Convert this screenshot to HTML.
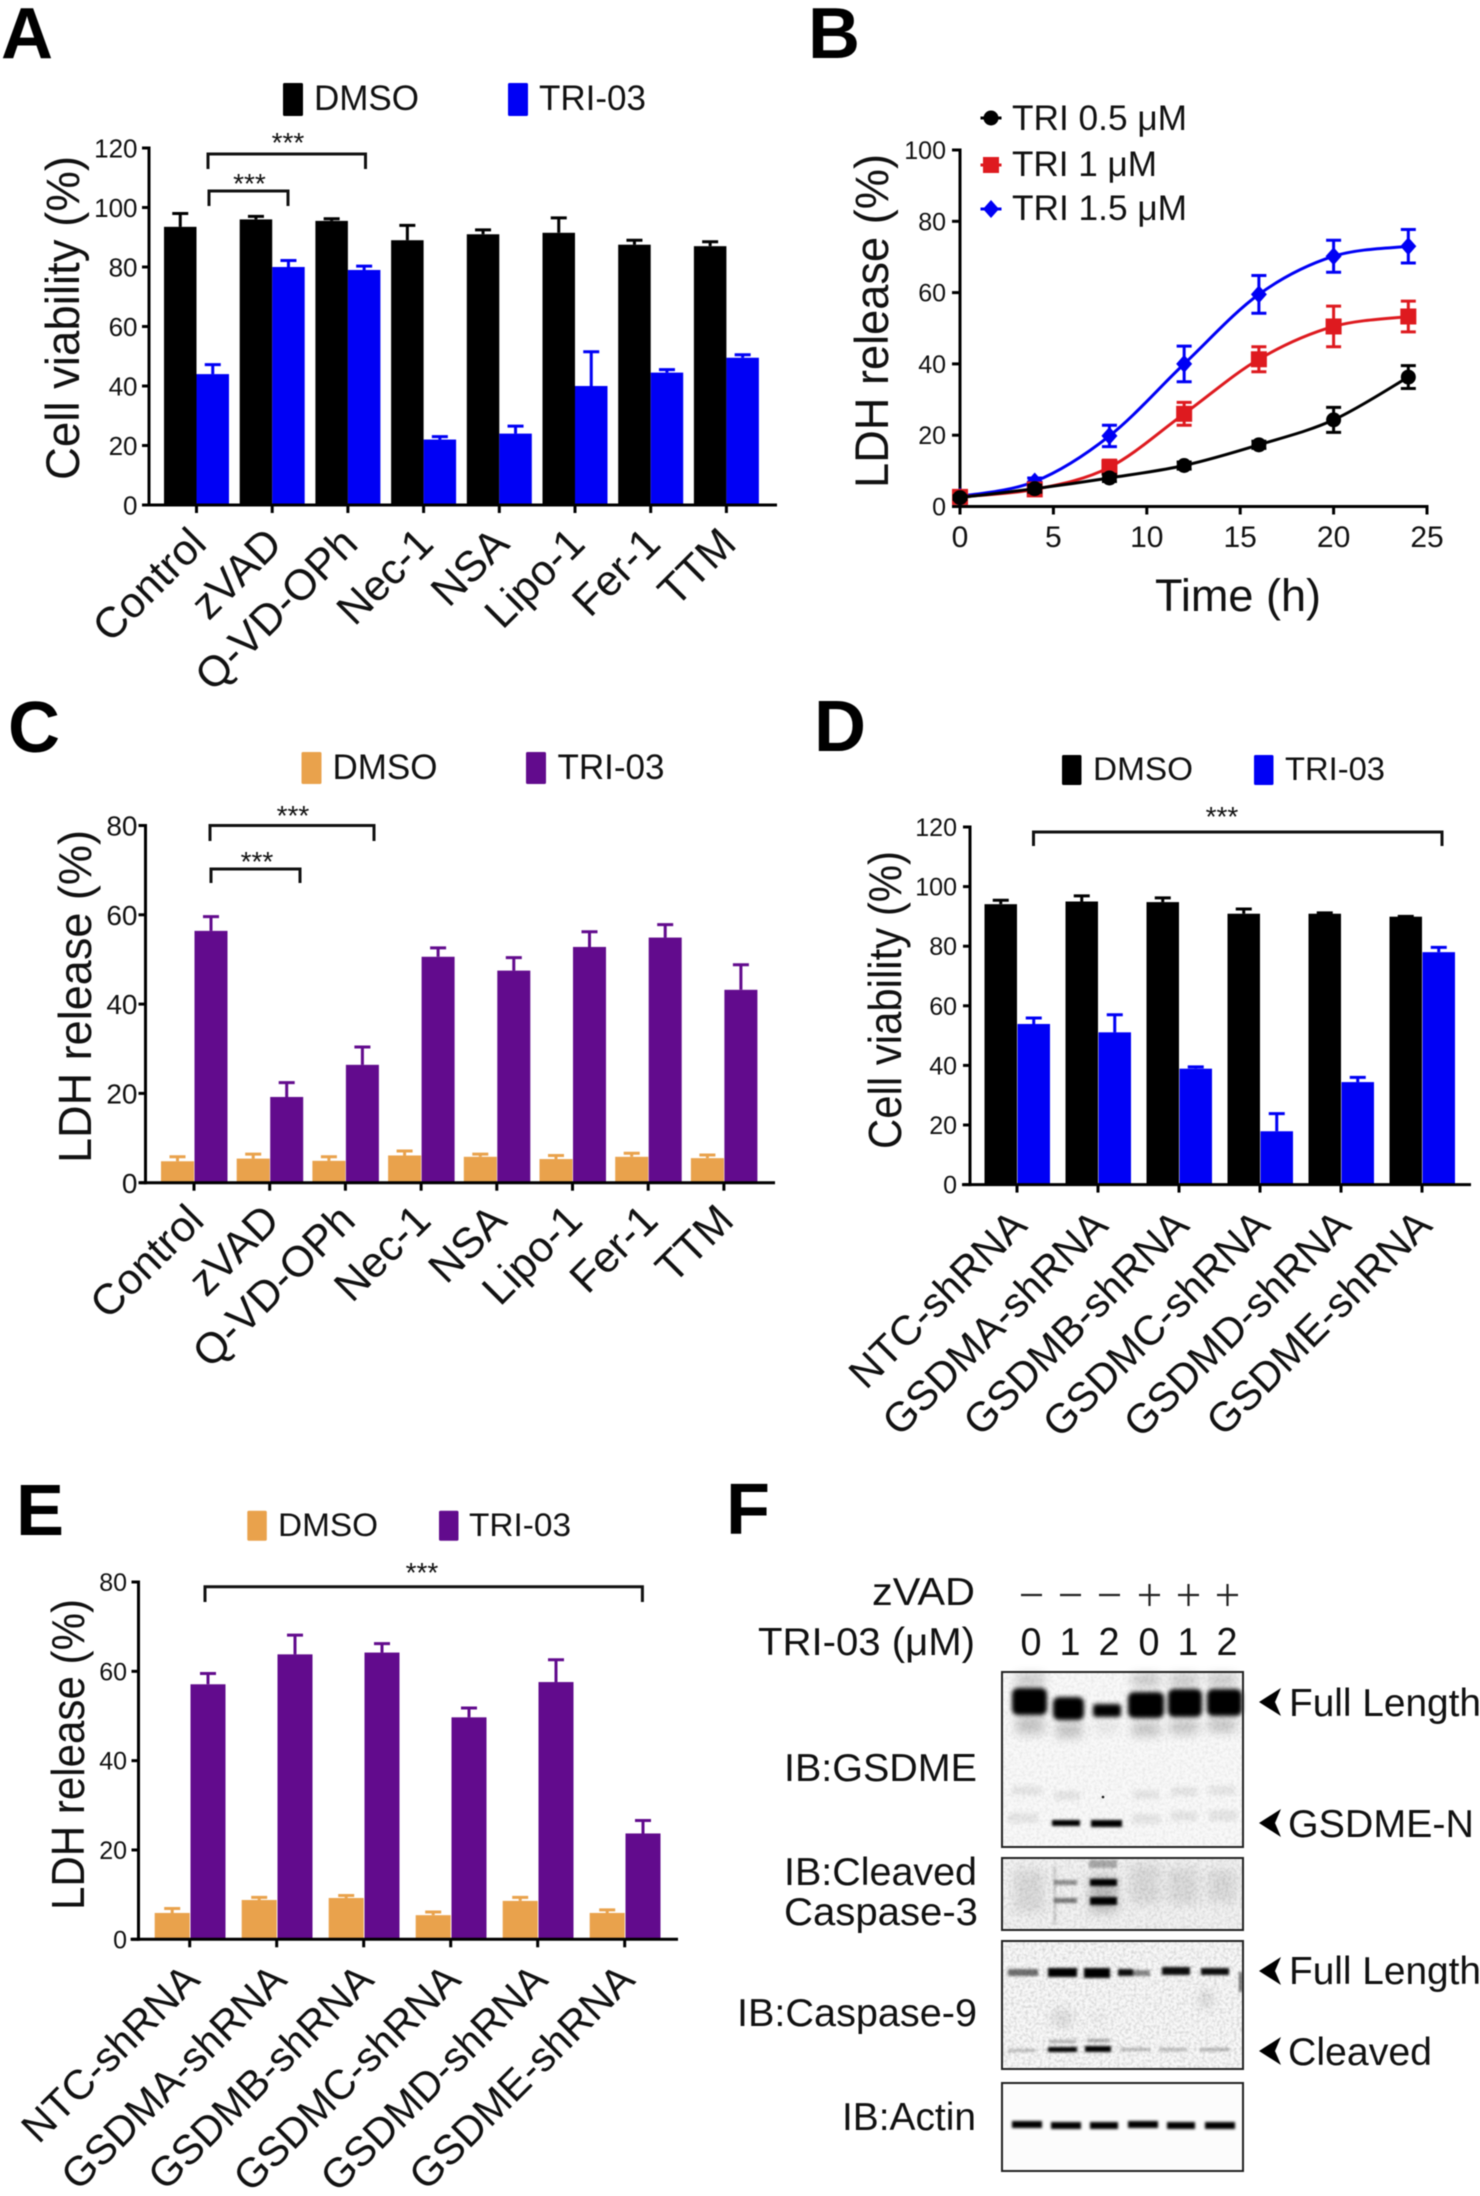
<!DOCTYPE html>
<html lang="en">
<head>
<meta charset="utf-8">
<title>TRI-03 pyroptosis figure</title>
<style>
html,body{margin:0;padding:0;background:#fff;}
svg{display:block;filter:blur(.45px);}
text{font-family:"Liberation Sans",Arial,sans-serif;fill:#111;}
</style>
</head>
<body>
<svg id="fig" xmlns="http://www.w3.org/2000/svg" width="1480" height="2196" viewBox="0 0 1480 2196">
<defs>
<filter id="b1" x="-40%" y="-150%" width="180%" height="400%"><feGaussianBlur stdDeviation="1.4"/></filter>
<filter id="b2" x="-40%" y="-100%" width="180%" height="300%"><feGaussianBlur stdDeviation="2"/></filter>
<filter id="b5" x="-60%" y="-150%" width="220%" height="400%"><feGaussianBlur stdDeviation="5"/></filter>
<filter id="grain" x="0" y="0" width="100%" height="100%"><feTurbulence type="fractalNoise" baseFrequency=".35" numOctaves="2" seed="4"/><feColorMatrix values="0 0 0 0 0  0 0 0 0 0  0 0 0 0 0  0 0 0 1.2 -.45"/></filter>
</defs>
<rect x="0" y="0" width="1480" height="2196" fill="#fff"/>
<text x="1" y="58" font-size="72" font-weight="700" style="fill:#000">A</text>
<text x="808" y="58" font-size="72" font-weight="700" style="fill:#000">B</text>
<text x="8" y="752" font-size="72" font-weight="700" style="fill:#000">C</text>
<text x="814" y="751" font-size="72" font-weight="700" style="fill:#000">D</text>
<text x="16" y="1535" font-size="72" font-weight="700" style="fill:#000">E</text>
<text x="726" y="1534" font-size="72" font-weight="700" style="fill:#000">F</text>

<g>
<text x="975" y="1605" text-anchor="end" font-size="39" textLength="103" lengthAdjust="spacingAndGlyphs">zVAD</text>
<text x="975" y="1655" text-anchor="end" font-size="39" textLength="217" lengthAdjust="spacingAndGlyphs">TRI-03 (μM)</text>
<g stroke="#222" stroke-width="2.2">
<path d="M1021 1595H1042"/>
<path d="M1060 1595H1081"/>
<path d="M1099 1595H1120"/>
<path d="M1139 1595H1160M1149.500 1584V1606"/>
<path d="M1178 1595H1199M1188.500 1584V1606"/>
<path d="M1217 1595H1238M1227.500 1584V1606"/>
</g>
<g font-size="39" text-anchor="middle">
<text x="1031" y="1655" textLength="21" lengthAdjust="spacingAndGlyphs">0</text>
<text x="1070" y="1655" textLength="21" lengthAdjust="spacingAndGlyphs">1</text>
<text x="1109" y="1655" textLength="21" lengthAdjust="spacingAndGlyphs">2</text>
<text x="1149" y="1655" textLength="21" lengthAdjust="spacingAndGlyphs">0</text>
<text x="1188" y="1655" textLength="21" lengthAdjust="spacingAndGlyphs">1</text>
<text x="1227" y="1655" textLength="21" lengthAdjust="spacingAndGlyphs">2</text>
</g>
<text x="977" y="1781" text-anchor="end" font-size="39" textLength="193" lengthAdjust="spacingAndGlyphs">IB:GSDME</text>
<text x="977" y="1885" text-anchor="end" font-size="39" textLength="193" lengthAdjust="spacingAndGlyphs">IB:Cleaved</text>
<text x="978" y="1925" text-anchor="end" font-size="39" textLength="194" lengthAdjust="spacingAndGlyphs">Caspase-3</text>
<text x="977" y="2026" text-anchor="end" font-size="39" textLength="240" lengthAdjust="spacingAndGlyphs">IB:Caspase-9</text>
<text x="976" y="2130" text-anchor="end" font-size="39" textLength="134" lengthAdjust="spacingAndGlyphs">IB:Actin</text>

<g>
<rect x="1002" y="1672" width="241" height="175" fill="#f9f9f9"/>
<rect x="1002" y="1672" width="241" height="175" filter="url(#grain)" opacity=".12"/>
<g filter="url(#b5)" fill="#000" opacity=".2">
<rect x="1016" y="1716" width="28" height="18"/>
<rect x="1056" y="1722" width="26" height="16"/>
<rect x="1094" y="1722" width="24" height="10" opacity=".4"/>
<rect x="1132" y="1722" width="28" height="14"/>
<rect x="1170" y="1720" width="28" height="14"/>
<rect x="1208" y="1718" width="28" height="14"/>
<rect x="1016" y="1674" width="28" height="12"/>
<rect x="1132" y="1674" width="28" height="12"/>
<rect x="1170" y="1674" width="28" height="12"/>
<rect x="1208" y="1674" width="28" height="12"/>
</g>
<g filter="url(#b2)" fill="#000">
<rect x="1012" y="1688" width="35" height="27" rx="6"/>
<rect x="1053" y="1697" width="31" height="23" rx="6"/>
<rect x="1093" y="1704" width="28" height="13" rx="3"/>
<rect x="1128" y="1692" width="36" height="26" rx="6"/>
<rect x="1168" y="1689" width="34" height="28" rx="6"/>
<rect x="1207" y="1689" width="35" height="27" rx="6"/>
</g>
<g filter="url(#b2)" fill="#000" opacity=".07">
<rect x="1012" y="1786" width="30" height="9"/>
<rect x="1054" y="1791" width="26" height="9"/>
<rect x="1133" y="1790" width="26" height="9"/>
<rect x="1171" y="1787" width="26" height="9"/>
<rect x="1209" y="1786" width="26" height="9"/>
<rect x="1008" y="1813" width="30" height="10"/>
<rect x="1132" y="1814" width="28" height="10"/>
<rect x="1171" y="1811" width="26" height="10"/>
<rect x="1209" y="1810" width="28" height="11"/>
</g>
<g filter="url(#b1)" fill="#000">
<rect x="1052" y="1820" width="28" height="6"/>
<rect x="1091" y="1820" width="31" height="7"/>
</g>
<circle cx="1103" cy="1797" r="1.300" fill="#111"/>
<rect x="1002" y="1672" width="241" height="175" fill="none" stroke="#222" stroke-width="2"/>
</g>

<g>
<rect x="1002" y="1858" width="241" height="72" fill="#f2f2f2"/>
<rect x="1002" y="1858" width="241" height="72" filter="url(#grain)" opacity=".2"/>
<g filter="url(#b5)" fill="#000" opacity=".09">
<rect x="1014" y="1870" width="30" height="42"/>
<rect x="1130" y="1864" width="30" height="40"/>
<rect x="1168" y="1868" width="30" height="36"/>
<rect x="1208" y="1870" width="28" height="32"/>
</g>
<rect x="1090" y="1876" width="27" height="36" fill="#000" opacity=".22" filter="url(#b5)"/>
<g filter="url(#b1)" fill="#000">
<rect x="1054" y="1880" width="23" height="5" opacity=".4"/>
<rect x="1054" y="1898" width="23" height="5" opacity=".5"/>
<rect x="1090" y="1879" width="27" height="7"/>
<rect x="1090" y="1897" width="27" height="8"/>
<rect x="1089" y="1860" width="28" height="8" opacity=".3"/>
<rect x="1054" y="1866" width="1.500" height="58" opacity=".3"/>
</g>
<rect x="1002" y="1858" width="241" height="72" fill="none" stroke="#222" stroke-width="2"/>
</g>

<g>
<rect x="1002" y="1941" width="241" height="128" fill="#f8f8f8"/>
<rect x="1002" y="1941" width="241" height="128" filter="url(#grain)" opacity=".25"/>
<g filter="url(#b5)" fill="#000" opacity=".1">
<rect x="1052" y="2010" width="20" height="16"/>
<rect x="1090" y="2014" width="16" height="8" opacity=".5"/>
<rect x="1199" y="1990" width="14" height="18"/>
</g>
<rect x="1239" y="1972" width="3" height="20" fill="#000" opacity=".6" filter="url(#b1)"/>
<g filter="url(#b1)" fill="#000">
<rect x="1008" y="1969" width="30" height="7" opacity=".55"/>
<rect x="1048" y="1968" width="29" height="9"/>
<rect x="1084" y="1968" width="26" height="10"/>
<rect x="1118" y="1969" width="15" height="7" opacity=".95"/>
<rect x="1133" y="1970" width="17" height="6" opacity=".45"/>
<rect x="1162" y="1967" width="28" height="8" opacity=".95"/>
<rect x="1201" y="1968" width="28" height="7" opacity=".95"/>
</g>
<g filter="url(#b1)" fill="#000">
<rect x="1008" y="2049" width="28" height="3" opacity=".25"/>
<rect x="1048" y="2047" width="29" height="5"/>
<rect x="1085" y="2046" width="26" height="6"/>
<rect x="1120" y="2048" width="30" height="3" opacity=".28"/>
<rect x="1159" y="2048" width="28" height="3" opacity=".28"/>
<rect x="1200" y="2048" width="30" height="3" opacity=".3"/>
<rect x="1050" y="2040" width="26" height="3" opacity=".3"/>
<rect x="1087" y="2039" width="23" height="3" opacity=".35"/>
</g>
<rect x="1002" y="1941" width="241" height="128" fill="none" stroke="#222" stroke-width="2"/>
</g>

<g>
<rect x="1002" y="2083" width="241" height="88" fill="#fcfcfc"/>
<g filter="url(#b1)" fill="#000">
<rect x="1012" y="2121" width="30" height="7"/>
<rect x="1051" y="2122" width="30" height="7"/>
<rect x="1090" y="2122" width="28" height="7"/>
<rect x="1128" y="2121" width="30" height="7"/>
<rect x="1167" y="2122" width="28" height="7"/>
<rect x="1205" y="2122" width="30" height="7"/>
</g>
<rect x="1002" y="2083" width="241" height="88" fill="none" stroke="#222" stroke-width="2"/>
</g>

<path d="M1259 1702L1281 1688L1275 1702L1281 1716Z" fill="#000"/>
<text x="1289" y="1716" font-size="39" textLength="192" lengthAdjust="spacingAndGlyphs">Full Length</text>
<path d="M1259 1823L1281 1809L1275 1823L1281 1837Z" fill="#000"/>
<text x="1288" y="1837" font-size="39" textLength="186" lengthAdjust="spacingAndGlyphs">GSDME-N</text>
<path d="M1259 1971L1281 1957L1275 1971L1281 1985Z" fill="#000"/>
<text x="1289" y="1984" font-size="39" textLength="192" lengthAdjust="spacingAndGlyphs">Full Length</text>
<path d="M1259 2051L1281 2037L1275 2051L1281 2065Z" fill="#000"/>
<text x="1288" y="2065" font-size="39" textLength="144" lengthAdjust="spacingAndGlyphs">Cleaved</text>
</g>
</svg>

<script>
// ---------- data ----------
const drugCategories = ['Control','zVAD','Q-VD-OPh','Nec-1','NSA','Lipo-1','Fer-1','TTM'];
const shrnaCategories = ['NTC-shRNA','GSDMA-shRNA','GSDMB-shRNA','GSDMC-shRNA','GSDMD-shRNA','GSDME-shRNA'];

const viabilityTicks = [0,20,40,60,80,100,120];
const ldhBarTicks = [0,20,40,60,80];
const ldhCurveYTicks = [0,20,40,60,80,100];
const timeTicks = [0,5,10,15,20,25];

const aDmso = [93.5,96,95.5,89,91,91.5,87.5,87];
const aDmsoErr = [4.5,1,0.7,5,1.5,5,1.5,1.5];
const aTri = [44,80,79,22,24,40,44.5,49.5];
const aTriErr = [3.2,2.2,1.3,1,2.5,11.5,1,1];

const cDmso = [4.8,5.4,4.9,6.1,5.8,5.3,5.8,5.5];
const cDmsoErr = [1,1,0.9,1,0.6,0.8,0.8,0.7];
const cTri = [56.4,19.2,26.4,50.6,47.5,52.8,54.9,43.2];
const cTriErr = [3.2,3.2,4,2,2.9,3.4,2.9,5.6];

const dDmso = [94.1,95,94.8,90.9,90.9,89.9];
const dDmsoErr = [1.3,1.9,1.4,1.6,0.3,0.1];
const dTri = [53.9,51.1,38.9,17.9,34.4,78];
const dTriErr = [2,5.9,0.6,5.9,1.6,1.6];

const eDmso = [5.9,8.8,9.25,5.4,8.6,5.9];
const eDmsoErr = [1,0.6,0.55,0.7,0.8,0.7];
const eTri = [57.1,63.8,64.2,49.7,57.6,23.7];
const eTriErr = [2.4,4.3,2,2.1,5,2.9];

const hours = [0,4,8,12,16,20,24];
const tri05 = [2.5,5,8,11.5,17.3,24.3,36.3];
const tri05Err = [0.5,1,1,1,1,3.5,3.2];
const tri1 = [2.7,4.8,11,26,41.3,50.5,53.3];
const tri1Err = [1,1,2,3.2,3.5,5.7,4.3];
const tri15 = [2.8,7,19.8,40,59.5,70.2,73];
const tri15Err = [0.5,1,3,5,5.3,4.5,4.7];

// ---------- helpers ----------
const NS = 'http://www.w3.org/2000/svg';
const fig = document.getElementById('fig');
function svgEl(tag, attrs, parent) {
  const el = document.createElementNS(NS, tag);
  for (const k in attrs) el.setAttribute(k, attrs[k]);
  (parent || fig).appendChild(el);
  return el;
}
function label(parent, x, y, str, size, extra) {
  const t = svgEl('text', Object.assign({x: x, y: y, 'font-size': size}, extra || {}), parent);
  t.textContent = str;
  return t;
}

const BLACK='#000', BLUE='#0000f5', ORANGE='#e9a24c', PURPLE='#620b8d', RED='#de1a1f';

function drawBarPanel(c) {
  const g = svgEl('g', {}, fig);
  
  
  const y = v => c.bottom - (v / c.max) * (c.bottom - c.top);
  const x = i => c.x0 + i * c.step;

  // legend
  c.legend.forEach(function (lg) {
    const sw = svgEl('rect', {x: lg.rx, y: c.legendTop, width: lg.rw, height: c.legendH, fill: lg.color, rx: 1.5}, g);
    
    
    const t = label(g, lg.tx, c.legendBase, lg.text, c.legendFont, {textLength: lg.tw, lengthAdjust: 'spacingAndGlyphs'});
    
    
  });

  // bars and error bars
  c.categories.forEach(function (cat, i) {
    [[c.a, c.aErr, c.aColor, -1, 'dmso'], [c.b, c.bErr, c.bColor, 1, 'tri03']].forEach(function (s) {
      const v = s[0][i], e = s[1][i], col = s[2], dir = s[3];
      const bx = dir < 0 ? x(i) - c.barW : x(i) + c.barGap;
      const bar = svgEl('rect', {x: bx, y: y(v), width: c.barW, height: c.bottom - y(v), fill: col}, g);
      
      
      const cx = bx + c.barW / 2;
      const err = svgEl('path', {d: 'M' + cx + ' ' + y(v) + 'V' + y(v + e) + 'M' + (cx - 8) + ' ' + y(v + e) + 'H' + (cx + 8), stroke: col, 'stroke-width': 3, fill: 'none'}, g);
      
      
    });
    const tick = svgEl('path', {d: 'M' + x(i) + ' ' + c.bottom + 'v8', stroke: '#000', 'stroke-width': 3}, g);
    
    
    const ax = x(i) + c.labelDx, ay = c.bottom + c.labelDy;
    const t = label(g, ax, ay, cat, c.labelFont, {'text-anchor': 'end', transform: 'rotate(' + c.labelAngle + ' ' + ax + ' ' + ay + ')'});
    
    
  });

  // axes
  const yAxis = svgEl('path', {d: 'M' + c.axisX + ' ' + (c.top - 1.5) + 'V' + (c.bottom + 1.5), stroke: '#000', 'stroke-width': 3}, g);
  
  
  const xAxis = svgEl('path', {d: 'M' + c.axisLeft + ' ' + c.bottom + 'H' + c.axisRight, stroke: '#000', 'stroke-width': 3}, g);
  
  
  c.ticks.forEach(function (v) {
    const tk = svgEl('path', {d: 'M' + (c.axisX - 7) + ' ' + y(v) + 'H' + c.axisX, stroke: '#000', 'stroke-width': 3}, g);
    
    
    const t = label(g, c.tickRight, y(v) + c.tickFont * 0.36, String(v), c.tickFont, {'text-anchor': 'end'});
    
    
  });

  // axis title
  const tt = label(g, c.titleX, c.titleBottom, c.title, c.titleFont, {
    transform: 'rotate(-90 ' + c.titleX + ' ' + c.titleBottom + ')',
    textLength: c.titleLen, lengthAdjust: 'spacingAndGlyphs'
  });
  
  

  // significance brackets
  c.brackets.forEach(function (b) {
    const p = svgEl('path', {d: 'M' + b.x1 + ' ' + b.leg + 'V' + b.y + 'H' + b.x2 + 'V' + b.leg, stroke: '#111', 'stroke-width': 3, fill: 'none'}, g);
    
    
    const s = label(g, b.sx, b.sy + 13, '***', 28, {'text-anchor': 'middle'});
    
    
  });
}

// ---------- panels A, C, D, E ----------
drawBarPanel({
  name:'panel-a-cell-viability', categories:drugCategories, a:aDmso, aErr:aDmsoErr, b:aTri, bErr:aTriErr, aColor:BLACK, bColor:BLUE,
  x0:196.5, step:75.7, barW:32.5, barGap:0, top:148, bottom:505, max:120, ticks:viabilityTicks,
  axisX:149, axisLeft:142, axisRight:777, tickRight:137.5, tickFont:26,
  title:'Cell viability (%)', titleX:79, titleBottom:480, titleFont:47, titleLen:324,
  labelFont:43, labelDx:12, labelDy:41, labelAngle:-45,
  legendTop:83, legendH:33, legendBase:110, legendFont:35,
  legend:[{rx:283,rw:20,color:BLACK,tx:314,tw:105,text:'DMSO'},{rx:508,rw:20,color:BLUE,tx:539,tw:107,text:'TRI-03'}],
  brackets:[{x1:208,x2:365.5,y:154,leg:169,sx:288,sy:139},{x1:209,x2:288,y:191,leg:206,sx:249.5,sy:180}]
});
drawBarPanel({
  name:'panel-c-ldh-release', categories:drugCategories, a:cDmso, aErr:cDmsoErr, b:cTri, bErr:cTriErr, aColor:ORANGE, bColor:PURPLE,
  x0:194, step:75.7, barW:33, barGap:0.5, top:825.5, bottom:1182.7, max:80, ticks:ldhBarTicks,
  axisX:145.5, axisLeft:140, axisRight:775, tickRight:137.5, tickFont:28,
  title:'LDH release (%)', titleX:91, titleBottom:1163, titleFont:46, titleLen:333,
  labelFont:43, labelDx:12, labelDy:40, labelAngle:-45,
  legendTop:752, legendH:32, legendBase:779, legendFont:35,
  legend:[{rx:301.5,rw:20,color:ORANGE,tx:332.5,tw:105,text:'DMSO'},{rx:526,rw:20,color:PURPLE,tx:557.5,tw:107,text:'TRI-03'}],
  brackets:[{x1:210,x2:374,y:825.5,leg:841,sx:293,sy:812},{x1:211,x2:300,y:869,leg:883,sx:257,sy:858}]
});
drawBarPanel({
  name:'panel-d-cell-viability-shrna', categories:shrnaCategories, a:dDmso, aErr:dDmsoErr, b:dTri, bErr:dTriErr, aColor:BLACK, bColor:BLUE,
  x0:1017, step:81, barW:32.5, barGap:0.5, top:827, bottom:1184.6, max:120, ticks:viabilityTicks,
  axisX:970, axisLeft:962, axisRight:1471, tickRight:957, tickFont:25,
  title:'Cell viability (%)', titleX:901, titleBottom:1149, titleFont:46, titleLen:298,
  labelFont:41.5, labelDx:12, labelDy:43, labelAngle:-45,
  legendTop:755, legendH:30, legendBase:780, legendFont:32,
  legend:[{rx:1062,rw:19.5,color:BLACK,tx:1093,tw:100,text:'DMSO'},{rx:1254,rw:19.5,color:BLUE,tx:1285,tw:100,text:'TRI-03'}],
  brackets:[{x1:1033.5,x2:1442,y:832,leg:846,sx:1222,sy:813}]
});
drawBarPanel({
  name:'panel-e-ldh-release-shrna', categories:shrnaCategories, a:eDmso, aErr:eDmsoErr, b:eTri, bErr:eTriErr, aColor:ORANGE, bColor:PURPLE,
  x0:189.7, step:87, barW:35, barGap:0.8, top:1582, bottom:1939.3, max:80, ticks:ldhBarTicks,
  axisX:138.5, axisLeft:130.6, axisRight:678, tickRight:127, tickFont:25,
  title:'LDH release (%)', titleX:84, titleBottom:1910, titleFont:46, titleLen:311,
  labelFont:41.5, labelDx:12, labelDy:42.5, labelAngle:-45,
  legendTop:1510.7, legendH:30, legendBase:1536, legendFont:32,
  legend:[{rx:247.3,rw:19.5,color:ORANGE,tx:278,tw:100,text:'DMSO'},{rx:439,rw:19.5,color:PURPLE,tx:469,tw:102,text:'TRI-03'}],
  brackets:[{x1:205,x2:642.4,y:1586.8,leg:1602,sx:422,sy:1569}]
});

// ---------- panel B ----------
(function () {
  const g = svgEl('g', {}, fig);
  
  
  const L = 960, R = 1427, T = 150, B = 506.5;
  const px = h => L + (h / 25) * (R - L);
  const py = v => B - (v / 100) * (B - T);

  function drawMarker(parent, kind, cx, cy, col) {
    let m;
    if (kind === 'circle') m = svgEl('circle', {cx: cx, cy: cy, r: 7.5, fill: col}, parent);
    if (kind === 'square') m = svgEl('rect', {x: cx - 8, y: cy - 8, width: 16, height: 16, fill: col}, parent);
    if (kind === 'diamond') m = svgEl('path', {d: 'M' + cx + ' ' + (cy - 9) + 'L' + (cx + 8) + ' ' + cy + 'L' + cx + ' ' + (cy + 9) + 'L' + (cx - 8) + ' ' + cy + 'Z', fill: col}, parent);
    return m;
  }
  function smoothPath(xs, ys) {
    let d = 'M' + px(xs[0]) + ' ' + py(ys[0]);
    for (let i = 0; i < xs.length - 1; i++) {
      const x0 = px(xs[Math.max(i - 1, 0)]), y0 = py(ys[Math.max(i - 1, 0)]);
      const x1 = px(xs[i]), y1 = py(ys[i]);
      const x2 = px(xs[i + 1]), y2 = py(ys[i + 1]);
      const x3 = px(xs[Math.min(i + 2, xs.length - 1)]), y3 = py(ys[Math.min(i + 2, xs.length - 1)]);
      d += 'C' + (x1 + (x2 - x0) / 6) + ' ' + (y1 + (y2 - y0) / 6) + ' ' + (x2 - (x3 - x1) / 6) + ' ' + (y2 - (y3 - y1) / 6) + ' ' + x2 + ' ' + y2;
    }
    return d;
  }

  // axes
  const yAxis = svgEl('path', {d: 'M' + L + ' ' + (T - 1.5) + 'V' + (B + 1.5), stroke: '#000', 'stroke-width': 3}, g);
  
  
  const xAxis = svgEl('path', {d: 'M' + (L - 8) + ' ' + B + 'H' + (R + 1.5), stroke: '#000', 'stroke-width': 3}, g);
  
  
  ldhCurveYTicks.forEach(function (v) {
    const tk = svgEl('path', {d: 'M' + (L - 8) + ' ' + py(v) + 'H' + L, stroke: '#000', 'stroke-width': 3}, g);
    
    
    const t = label(g, 946, py(v) + 9, String(v), 25, {'text-anchor': 'end'});
    
    
  });
  timeTicks.forEach(function (h) {
    const tk = svgEl('path', {d: 'M' + px(h) + ' ' + B + 'v8', stroke: '#000', 'stroke-width': 3}, g);
    
    
    const t = label(g, px(h), 547, String(h), 30, {'text-anchor': 'middle'});
    
    
  });
  const yt = label(g, 888, 488, 'LDH release (%)', 47, {transform: 'rotate(-90 888 488)', textLength: 334, lengthAdjust: 'spacingAndGlyphs'});
  
  
  const xt = label(g, 1155, 611, 'Time (h)', 45, {textLength: 166, lengthAdjust: 'spacingAndGlyphs'});
  
  

  // series (blue and red behind black, as in the figure)
  [[tri15, tri15Err, BLUE, 'diamond', 'tri-1-5'], [tri1, tri1Err, RED, 'square', 'tri-1'], [tri05, tri05Err, BLACK, 'circle', 'tri-0-5']].forEach(function (s) {
    const line = svgEl('path', {d: smoothPath(hours, s[0]), fill: 'none', stroke: s[2], 'stroke-width': 3}, g);
    
    
    hours.forEach(function (h, i) {
      const cx = px(h), hi = py(s[0][i] + s[1][i]), lo = py(s[0][i] - s[1][i]);
      const err = svgEl('path', {d: 'M' + cx + ' ' + hi + 'V' + lo + 'M' + (cx - 7.5) + ' ' + hi + 'H' + (cx + 7.5) + 'M' + (cx - 7.5) + ' ' + lo + 'H' + (cx + 7.5), stroke: s[2], 'stroke-width': 3, fill: 'none'}, g);
      
      
      const mk = drawMarker(g, s[3], cx, py(s[0][i]), s[2]);
      
      
    });
  });

  // legend
  [['TRI 0.5 μM', BLACK, 'circle', 118, 130, 175], ['TRI 1 μM', RED, 'square', 165, 176, 145], ['TRI 1.5 μM', BLUE, 'diamond', 209, 220, 175]].forEach(function (e) {
    const dash = svgEl('path', {d: 'M980.5 ' + e[3] + 'H1001.5', stroke: e[1], 'stroke-width': 3}, g);
    
    
    const mk = drawMarker(g, e[2], 991, e[3], e[1]);
    
    
    const t = label(g, 1012, e[4], e[0], 35, {textLength: e[5], lengthAdjust: 'spacingAndGlyphs'});
    
    
  });
})();
</script>
</body>
</html>
